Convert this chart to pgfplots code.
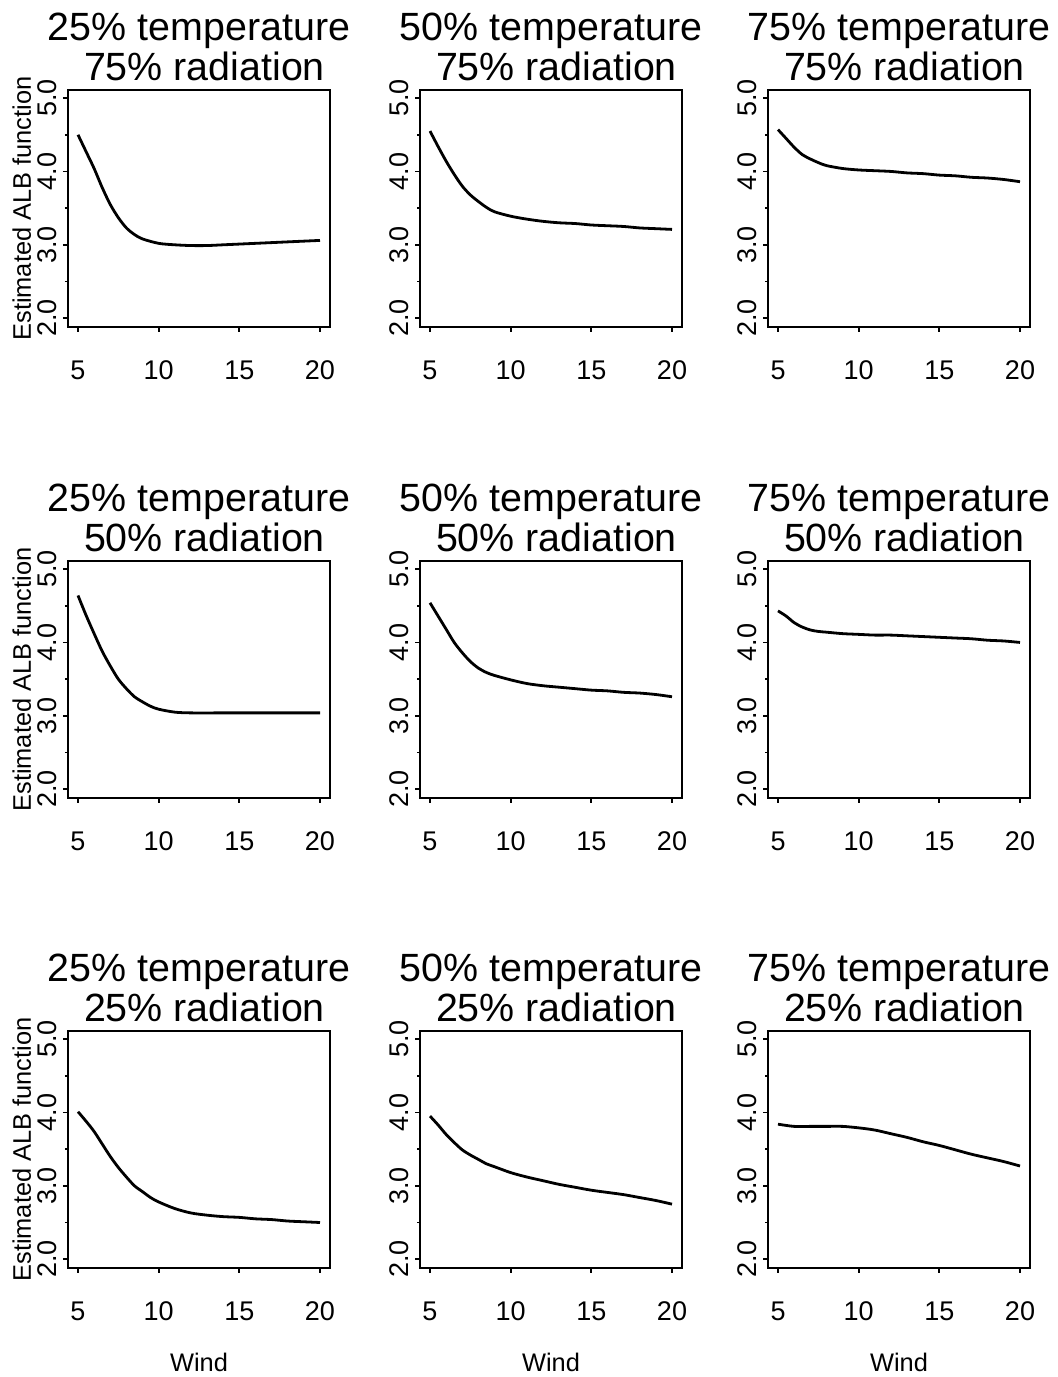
\documentclass[border=0pt]{standalone}
\usepackage{fontspec}
\setmainfont{Liberation Sans}
\usepackage{pgfplots}
\pgfplotsset{compat=1.18}
\pgfplotsset{
  curve/.style={black, line width=1.4pt, smooth, mark=none},
  panel/.style={
    scale only axis, width=131pt, height=118.5pt,
    anchor=south west,
    xmin=4.38, xmax=20.62, ymin=1.88, ymax=5.11,
    xtick={5,10,15,20}, ytick={2,3,4,5},
    yticklabels={2.0,3.0,4.0,5.0},
    minor ytick={2.5,3.5,4.5},
    tick pos=left, tick align=outside,
    major tick length=2.5pt, minor tick length=1.5pt,
    every tick/.style={black, line width=0.9pt},
    axis line style={line width=1pt},
    /pgf/number format/assume math mode=true,
    typeset ticklabels with strut,
    tick label style={font=\fontsize{13.5}{13.5}\selectfont, inner sep=0pt},
    xticklabel style={anchor=north},
    xticklabel shift=14pt,
    yticklabel style={rotate=90, anchor=south},
    yticklabel shift=-1pt,
    title style={font=\fontsize{19.7}{20}\selectfont, align=center, inner sep=0pt, at={(0.5,1)}, anchor=south, yshift=-1.5pt},
    ylabel style={font=\fontsize{12.7}{12.7}\selectfont, at={(axis description cs:-0.176,0.5)}, anchor=center, rotate=0},
    xlabel style={font=\fontsize{12.7}{12.7}\selectfont, at={(axis description cs:0.5,-0.397)}, anchor=center},
  }
}
\newcommand{\ttl}[2]{#1\%{} temperature\hspace{0.28em}\\\hspace{0.28em}#2\%{} radiation}
\begin{document}
\begin{tikzpicture}[x=1pt,y=1pt]
\useasboundingbox (0,0) rectangle (528.5,688.5);
% Row 1
\begin{axis}[panel, at={(34pt,525pt)}, title={\ttl{25}{75}}, ylabel={Estimated ALB function}]
\addplot[curve] coordinates {(5,4.50) (5.5,4.27) (6,4.04) (6.5,3.78) (7,3.55) (7.5,3.37) (8,3.23) (8.5,3.14) (9,3.08) (10,3.02) (11,3.00) (12,2.99) (13,2.99) (14,3.00) (15,3.01) (16,3.02) (17,3.03) (18,3.04) (19,3.05) (20,3.06)};
\end{axis}
\begin{axis}[panel, at={(210pt,525pt)}, title={\ttl{50}{75}}]
\addplot[curve] coordinates {(5,4.55) (5.5,4.34) (6,4.14) (6.5,3.96) (7,3.80) (7.5,3.68) (8,3.59) (8.5,3.51) (9,3.45) (10,3.39) (11,3.35) (12,3.32) (13,3.30) (14,3.29) (15,3.27) (16,3.26) (17,3.25) (18,3.23) (19,3.22) (20,3.21)};
\end{axis}
\begin{axis}[panel, at={(384pt,525pt)}, title={\ttl{75}{75}}]
\addplot[curve] coordinates {(5,4.57) (5.5,4.45) (6,4.33) (6.5,4.23) (7,4.17) (7.5,4.12) (8,4.08) (9,4.04) (10,4.02) (11,4.01) (12,4.00) (13,3.98) (14,3.97) (15,3.95) (16,3.94) (17,3.92) (18,3.91) (19,3.89) (20,3.86)};
\end{axis}
% Row 2
\begin{axis}[panel, at={(34pt,289.5pt)}, title={\ttl{25}{50}}, ylabel={Estimated ALB function}]
\addplot[curve] coordinates {(5,4.64) (5.5,4.37) (6,4.12) (6.5,3.88) (7,3.68) (7.5,3.50) (8,3.37) (8.5,3.26) (9,3.19) (9.5,3.13) (10,3.09) (11,3.05) (12,3.04) (14,3.04) (16,3.04) (18,3.04) (20,3.04)};
\end{axis}
\begin{axis}[panel, at={(210pt,289.5pt)}, title={\ttl{50}{50}}]
\addplot[curve] coordinates {(5,4.54) (5.5,4.36) (6,4.18) (6.5,4.00) (7,3.86) (7.5,3.74) (8,3.65) (8.5,3.59) (9,3.55) (10,3.49) (11,3.44) (12,3.41) (13,3.39) (14,3.37) (15,3.35) (16,3.34) (17,3.32) (18,3.31) (19,3.29) (20,3.26)};
\end{axis}
\begin{axis}[panel, at={(384pt,289.5pt)}, title={\ttl{75}{50}}]
\addplot[curve] coordinates {(5,4.43) (5.5,4.36) (6,4.27) (6.5,4.21) (7,4.17) (7.5,4.15) (8,4.14) (9,4.12) (10,4.11) (11,4.10) (12,4.10) (13,4.09) (14,4.08) (15,4.07) (16,4.06) (17,4.05) (18,4.03) (19,4.02) (20,4.00)};
\end{axis}
% Row 3
\begin{axis}[panel, at={(34pt,54.5pt)}, title={\ttl{25}{25}}, ylabel={Estimated ALB function}, xlabel={Wind}]
\addplot[curve] coordinates {(5,4.01) (5.5,3.88) (6,3.74) (6.5,3.57) (7,3.40) (7.5,3.25) (8,3.12) (8.5,3.00) (9,2.92) (9.5,2.84) (10,2.78) (11,2.69) (12,2.63) (13,2.60) (14,2.58) (15,2.57) (16,2.55) (17,2.54) (18,2.52) (19,2.51) (20,2.50)};
\end{axis}
\begin{axis}[panel, at={(210pt,54.5pt)}, title={\ttl{50}{25}}, xlabel={Wind}]
\addplot[curve] coordinates {(5,3.95) (5.5,3.83) (6,3.70) (6.5,3.59) (7,3.49) (7.5,3.42) (8,3.36) (8.5,3.30) (9,3.26) (10,3.18) (11,3.12) (12,3.07) (13,3.02) (14,2.98) (15,2.94) (16,2.91) (17,2.88) (18,2.84) (19,2.80) (20,2.75)};
\end{axis}
\begin{axis}[panel, at={(384pt,54.5pt)}, title={\ttl{75}{25}}, xlabel={Wind}]
\addplot[curve] coordinates {(5,3.84) (6,3.81) (7,3.81) (8,3.81) (9,3.81) (10,3.79) (11,3.76) (12,3.71) (13,3.66) (14,3.60) (15,3.55) (16,3.49) (17,3.43) (18,3.38) (19,3.33) (20,3.27)};
\end{axis}
\end{tikzpicture}
\end{document}
